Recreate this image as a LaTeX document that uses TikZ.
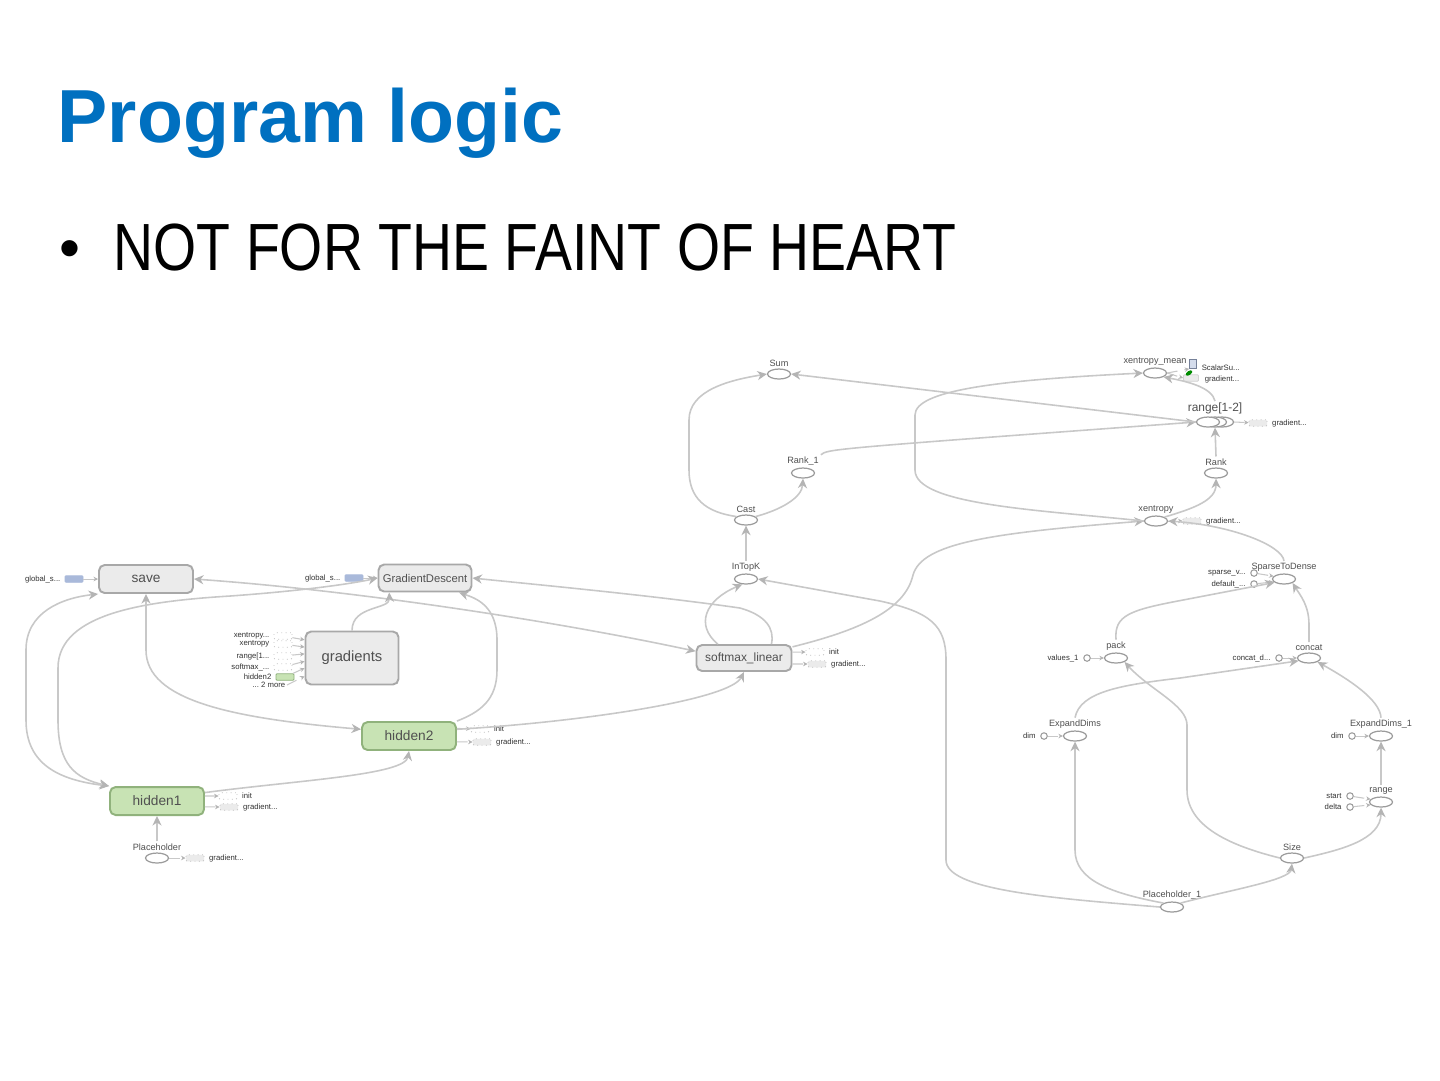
\documentclass[tikz,border=0pt]{standalone}
\usepackage{fontspec}
\setmainfont{Liberation Sans}
\newfontfamily\pointfont[FakeStretch=0.83]{Liberation Sans}
\usepackage{tikz}
\usetikzlibrary{arrows.meta, positioning, shapes.geometric}
\definecolor{titleBlue}{HTML}{0070C0}
\definecolor{edgeGray}{HTML}{C8C8C8}
\definecolor{tipGray}{HTML}{B4B4B4}
\definecolor{boxFill}{HTML}{EBEBEB}
\definecolor{boxLine}{HTML}{A8A8A8}
\definecolor{varFill}{HTML}{C8E3B4}
\definecolor{varLine}{HTML}{90B27C}
\definecolor{opLine}{HTML}{9C9C9C}
\definecolor{labelGray}{HTML}{505050}
\definecolor{stepFill}{HTML}{A9B9DA}
\def\cutdots{...}

\begin{document}
\begin{tikzpicture}[x=0.1mm, y=-0.1mm, font=\fontsize{3pt}{3.5pt}\selectfont,
  >={Stealth[length=0.95mm, width=0.9mm, inset=0.3mm, color=tipGray]},
  grp/.style={draw=boxLine, fill=boxFill, rounded corners=1.6pt, line width=0.55pt,
              minimum width=9.4mm, minimum height=2.8mm, inner sep=0pt, text=labelGray,
              font=\fontsize{3.9pt}{4.2pt}\selectfont},
  vargrp/.style={grp, draw=varLine, fill=varFill},
  op/.style={ellipse, draw=opLine, fill=white, line width=0.35pt, minimum width=2.3mm,
             minimum height=1mm, inner sep=0pt},
  oplab/.style={font=\fontsize{2.6pt}{3pt}\selectfont, text=labelGray, inner sep=0.4pt},
  auxlab/.style={font=\fontsize{2.2pt}{2.6pt}\selectfont, text=black!80, inner sep=0.3pt},
  auxbox/.style={draw=boxLine!70, densely dotted, fill=white, rounded corners=0.3pt, line width=0.25pt,
                 minimum width=1.8mm, minimum height=0.65mm, inner sep=0pt},
  cnst/.style={circle, draw=opLine, fill=white, line width=0.3pt, minimum size=0.65mm, inner sep=0pt},
  flow/.style={draw=edgeGray, line width=0.45pt, ->},
  flow2/.style={draw=edgeGray, line width=0.45pt, <->},
  auxflow/.style={draw=edgeGray, line width=0.3pt, densely dashed,
                  -{Stealth[length=0.45mm, width=0.45mm, color=tipGray]}},
]
  \fill[white] (0,0) rectangle (1440,1080);
  \useasboundingbox (0,0) rectangle (1440,1080);

  \node[anchor=base west, inner sep=0pt, text=titleBlue, font=\fontsize{21.4pt}{24pt}\selectfont\bfseries] (title) at (57,142) {Program logic};
  \node[anchor=base west, inner sep=0pt, font=\fontsize{17pt}{20pt}\selectfont] (dot) at (59,268) {\textbullet};
  \node[anchor=base west, inner sep=0pt, font=\pointfont\fontsize{19pt}{22pt}\selectfont] (point) at (113,270) {NOT FOR THE FAINT OF HEART};

  \node[grp] (save) at (146,579) {save};
  \node[grp, minimum width=9.3mm, minimum height=2.7mm, font=\fontsize{3.2pt}{3.6pt}\selectfont] (descent) at (425,578) {GradientDescent};
  \node[grp, minimum width=9.3mm, minimum height=5.3mm, font=\fontsize{4.2pt}{4.6pt}\selectfont] (grads) at (352,658) {gradients};
  \node[grp, minimum width=9.5mm, minimum height=2.6mm, font=\fontsize{3.4pt}{3.8pt}\selectfont] (softmax) at (744,658) {softmax\_linear};
  \node[vargrp] (hid2) at (409,736) {hidden2};
  \node[vargrp] (hid1) at (157,801) {hidden1};

  \node[op, label={[oplab,name=phL]above:Placeholder}] (ph) at (157,858) {};
  \node[op, label={[oplab,name=sumL]above:Sum}] (sum) at (779,374) {};
  \node[op, label={[oplab,name=rk1L]above:Rank\_1}] (rank1) at (803,473) {};
  \node[op, label={[oplab,name=castL]above:Cast}] (cast) at (746,520) {};
  \node[op, label={[oplab,name=topkL]above:InTopK}] (topk) at (746,579) {};
  \node[op, label={[oplab,name=xmeanL]above:xentropy\_mean}] (xmean) at (1155,373) {};
  \node[op] (rng12c) at (1222,422) {};
  \node[op] (rng12b) at (1215,422) {};
  \node[op, label={[oplab, font=\fontsize{3.4pt}{3.8pt}\selectfont, name=rng12L, xshift=0.7mm]above:{range[1-2]}}] (rng12) at (1208,422) {};
  \node[op, label={[oplab,name=rankL]above:Rank}] (rank) at (1216,473) {};
  \node[op, label={[oplab,name=xentL]above:xentropy}] (xent) at (1156,521) {};
  \node[op, label={[oplab,name=s2dL]above:SparseToDense}] (s2d) at (1284,579) {};
  \node[op, label={[oplab,name=packL]above:pack}] (pack) at (1116,658) {};
  \node[op, label={[oplab,name=concatL]above:concat}] (concat) at (1309,658) {};
  \node[op, label={[oplab,name=expL]above:ExpandDims}] (exp) at (1075,736) {};
  \node[op, label={[oplab,name=exp1L]above:ExpandDims\_1}] (exp1) at (1381,736) {};
  \node[op, label={[oplab,name=rngL]above:range}] (rng) at (1381,802) {};
  \node[op, label={[oplab,name=sizeL]above:Size}] (size) at (1292,858) {};
  \node[op, label={[oplab,name=ph1L]above:Placeholder\_1}] (ph1) at (1172,907) {};

  \node[auxbox, solid, fill=stepFill, draw=stepFill] (saveStep) at (74,579) {};
  \node[auxlab, left=0.25mm of saveStep] (saveStepL) {global\_s\cutdots};
  \node[auxbox, solid, fill=stepFill, draw=stepFill] (gdStep) at (354,578) {};
  \node[auxlab, left=0.25mm of gdStep] (gdStepL) {global\_s\cutdots};
  \draw[auxflow, solid] (saveStep) -- (save);
  \draw[auxflow, solid] (gdStep) -- (descent);

  \foreach \nm/\yy/\txt/\ang in {gi1/636/xentropy\cutdots/159, gi2/644/xentropy/167, gi3/656/range[1\cutdots/175, gi4/667/softmax\_\cutdots/184}{
    \node[auxbox] (\nm) at (283,\yy) {};
    \node[auxlab, left=0.25mm of \nm] (\nm lab) {\txt};
    \draw[auxflow] (\nm) -- (grads.\ang);
  }
  \node[auxbox, solid, fill=varFill, draw=varLine] (gi5) at (285,677) {};
  \node[auxlab, left=0.25mm of gi5] (gi5lab) {hidden2};
  \node[auxlab, anchor=east] (gi6) at (287,685) {\cutdots\ 2 more};
  \draw[auxflow] (gi5) -- (grads.192);
  \draw[auxflow] (gi6.east) -- (grads.201);

  \node[auxbox] (smInit) at (815,652) {};
  \node[auxlab, right=0.3mm of smInit] (smInitL) {init};
  \node[auxbox, fill=boxFill] (smGrad) at (817,664) {};
  \node[auxlab, right=0.3mm of smGrad] (smGradL) {gradient\cutdots};
  \draw[auxflow] (softmax.7) -- (smInit);
  \draw[auxflow] (softmax.353) -- (smGrad);

  \node[auxbox] (h2Init) at (480,729) {};
  \node[auxlab, right=0.3mm of h2Init] (h2InitL) {init};
  \node[auxbox, fill=boxFill] (h2Grad) at (482,742) {};
  \node[auxlab, right=0.3mm of h2Grad] (h2GradL) {gradient\cutdots};
  \draw[auxflow] (hid2.9) -- (h2Init);
  \draw[auxflow] (hid2.353) -- (h2Grad);

  \node[auxbox] (h1Init) at (228,796) {};
  \node[auxlab, right=0.3mm of h1Init] (h1InitL) {init};
  \node[auxbox, fill=boxFill] (h1Grad) at (229,807) {};
  \node[auxlab, right=0.3mm of h1Grad] (h1GradL) {gradient\cutdots};
  \draw[auxflow] (hid1.6) -- (h1Init);
  \draw[auxflow] (hid1.353) -- (h1Grad);

  \node[auxbox, fill=boxFill] (phGrad) at (195,858) {};
  \node[auxlab, right=0.3mm of phGrad] (phGradL) {gradient\cutdots};
  \draw[auxflow] (ph) -- (phGrad);

  \node[draw=stepFill!70!black, fill=stepFill!50, line width=0.2pt, minimum width=0.7mm, minimum height=0.9mm, inner sep=0pt] (xmIcon) at (1193,364) {};
  \node[auxbox, solid, fill=boxFill, draw=boxLine!50, minimum width=1.5mm] (xmGrad) at (1191,378) {};
  \node[ellipse, fill=green!55!black, minimum width=0.75mm, minimum height=0.4mm, inner sep=0pt, rotate=35] (xmLeaf) at (1189,373) {};
  \node[auxlab, anchor=west] (xmIconL) at (1200,368) {ScalarSu\cutdots};
  \node[auxlab, anchor=west] (xmGradL) at (1203,379) {gradient\cutdots};
  \draw[auxflow] (xmean.east) -- (xmIcon.south west);
  \draw[auxflow] (xmean.east) -- (xmGrad.west);

  \node[auxbox, fill=boxFill] (r12Grad) at (1258,423) {};
  \node[auxlab, right=0.3mm of r12Grad] (r12GradL) {gradient\cutdots};
  \draw[auxflow] (rng12c.east) -- (r12Grad);
  \node[auxbox, fill=boxFill] (xeGrad) at (1192,521) {};
  \node[auxlab, right=0.3mm of xeGrad] (xeGradL) {gradient\cutdots};
  \draw[auxflow] (xent.east) -- (xeGrad);

  \node[cnst] (svC) at (1254,573) {};
  \node[auxlab, left=0.3mm of svC] (svCL) {sparse\_v\cutdots};
  \node[cnst] (dfC) at (1254,584) {};
  \node[auxlab, left=0.3mm of dfC] (dfCL) {default\_\cutdots};
  \node[cnst] (valC) at (1087,658) {};
  \node[auxlab, left=0.3mm of valC] (valCL) {values\_1};
  \node[cnst] (ccC) at (1279,658) {};
  \node[auxlab, left=0.3mm of ccC] (ccCL) {concat\_d\cutdots};
  \node[cnst] (dimC) at (1044,736) {};
  \node[auxlab, left=0.3mm of dimC] (dimCL) {dim};
  \node[cnst] (dim1C) at (1352,736) {};
  \node[auxlab, left=0.3mm of dim1C] (dim1CL) {dim};
  \node[cnst] (stC) at (1350,796) {};
  \node[auxlab, left=0.3mm of stC] (stCL) {start};
  \node[cnst] (dtC) at (1350,807) {};
  \node[auxlab, left=0.3mm of dtC] (dtCL) {delta};
  \draw[auxflow] (svC) -- (s2d.165);
  \draw[auxflow] (dfC) -- (s2d.195);
  \draw[auxflow] (valC) -- (pack.west);
  \draw[auxflow] (ccC) -- (concat.west);
  \draw[auxflow] (dimC) -- (exp.west);
  \draw[auxflow] (dim1C) -- (exp1.west);
  \draw[auxflow] (stC) -- (rng.165);
  \draw[auxflow] (dtC) -- (rng.195);

  \draw[flow2] (hid1.north west) .. controls (60,780) and (26,765) .. (26,720) -- (26,650) .. controls (26,612) and (62,598) .. (save.south west);
  \draw[flow2] (hid1.north west) .. controls (75,778) and (58,765) .. (58,720) -- (58,668) .. controls (58,612) and (150,601) .. (230,596) .. controls (300,591) and (350,584) .. (descent.west);
  \draw[flow2] (save.south) -- (146,650) .. controls (146,700) and (230,718) .. (hid2.172);
  \draw[flow2] (save.east) .. controls (350,590) and (550,620) .. (softmax.172);
  \draw[flow] (softmax.27) .. controls (775,628) and (765,615) .. (740,608) .. controls (650,595) and (520,583) .. (descent.east);
  \draw[flow] (softmax.152) .. controls (695,625) and (705,600) .. (topk.235);
  \draw[flow] (grads.north) .. controls (352,605) and (390,610) .. (descent.202);
  \draw[flow] (hid2.north east) .. controls (480,712) and (497,700) .. (497,670) -- (497,640) .. controls (497,605) and (475,598) .. (descent.337);
  \draw[flow] (hid1.10) .. controls (300,780) and (405,775) .. (hid2.south);
  \draw[flow] (hid2.8) .. controls (580,722) and (730,700) .. (softmax.south);
  \draw[flow] (phL.north) -- (hid1.south);

  \draw[flow] (softmax.13) .. controls (860,630) and (905,610) .. (913,575) .. controls (922,543) and (990,533) .. (xent.west);
  \draw[flow] (topkL.north) -- (cast.south);
  \draw[flow] (cast.160) .. controls (705,512) and (689,498) .. (689,470) -- (689,420) .. controls (689,390) and (730,380) .. (sum.west);
  \draw[flow] (cast.20) .. controls (780,510) and (802,498) .. (rank1.south);
  \draw[flow] (rk1L.north east) .. controls (828,449) .. (rng12.west);
  \draw[flow] (rng12.west) -- (sum.east);
  \draw[flow] (rng12L.north) .. controls (1212,388) and (1190,382) .. (xmean.south east);
  \draw[flow] (xent.west) .. controls (1040,510) and (915,505) .. (915,470) -- (915,415) .. controls (915,390) and (1000,380) .. (xmean.west);
  \draw[flow] (xent.north east) .. controls (1195,508) and (1216,500) .. (rank.south);
  \draw[flow] (rankL.north) -- (rng12b.south);
  \draw[flow] (s2dL.north) .. controls (1282,545) and (1230,525) .. (xent.east);

  \draw[flow] (ph1.west) .. controls (1050,898) and (946,890) .. (946,860) -- (946,660) .. controls (946,625) and (930,612) .. (880,601) -- (topk.east);
  \draw[flow] (ph1.north west) .. controls (1110,893) and (1075,880) .. (1075,850) -- (exp.south);
  \draw[flow] (ph1.north east) .. controls (1230,890) and (1290,880) .. (size.south);
  \draw[flow] (size.east) .. controls (1340,850) and (1381,840) .. (rng.south);
  \draw[flow] (size.west) .. controls (1240,848) and (1187,830) .. (1187,790) -- (1187,725) .. controls (1187,705) and (1150,690) .. (pack.south east);
  \draw[flow] (rngL.north) -- (exp1.south);
  \draw[flow] (exp1L.north) .. controls (1380,700) and (1350,680) .. (concat.south east);
  \draw[flow] (expL.north) .. controls (1080,692) and (1120,685) .. (1180,678) -- (concat.195);
  \draw[flow] (concatL.north) -- (1309,625) .. controls (1309,605) and (1300,595) .. (s2d.south east);
  \draw[flow] (packL.north) .. controls (1114,615) and (1130,610) .. (1183,600) -- (s2d.200);
\end{tikzpicture}
\end{document}
